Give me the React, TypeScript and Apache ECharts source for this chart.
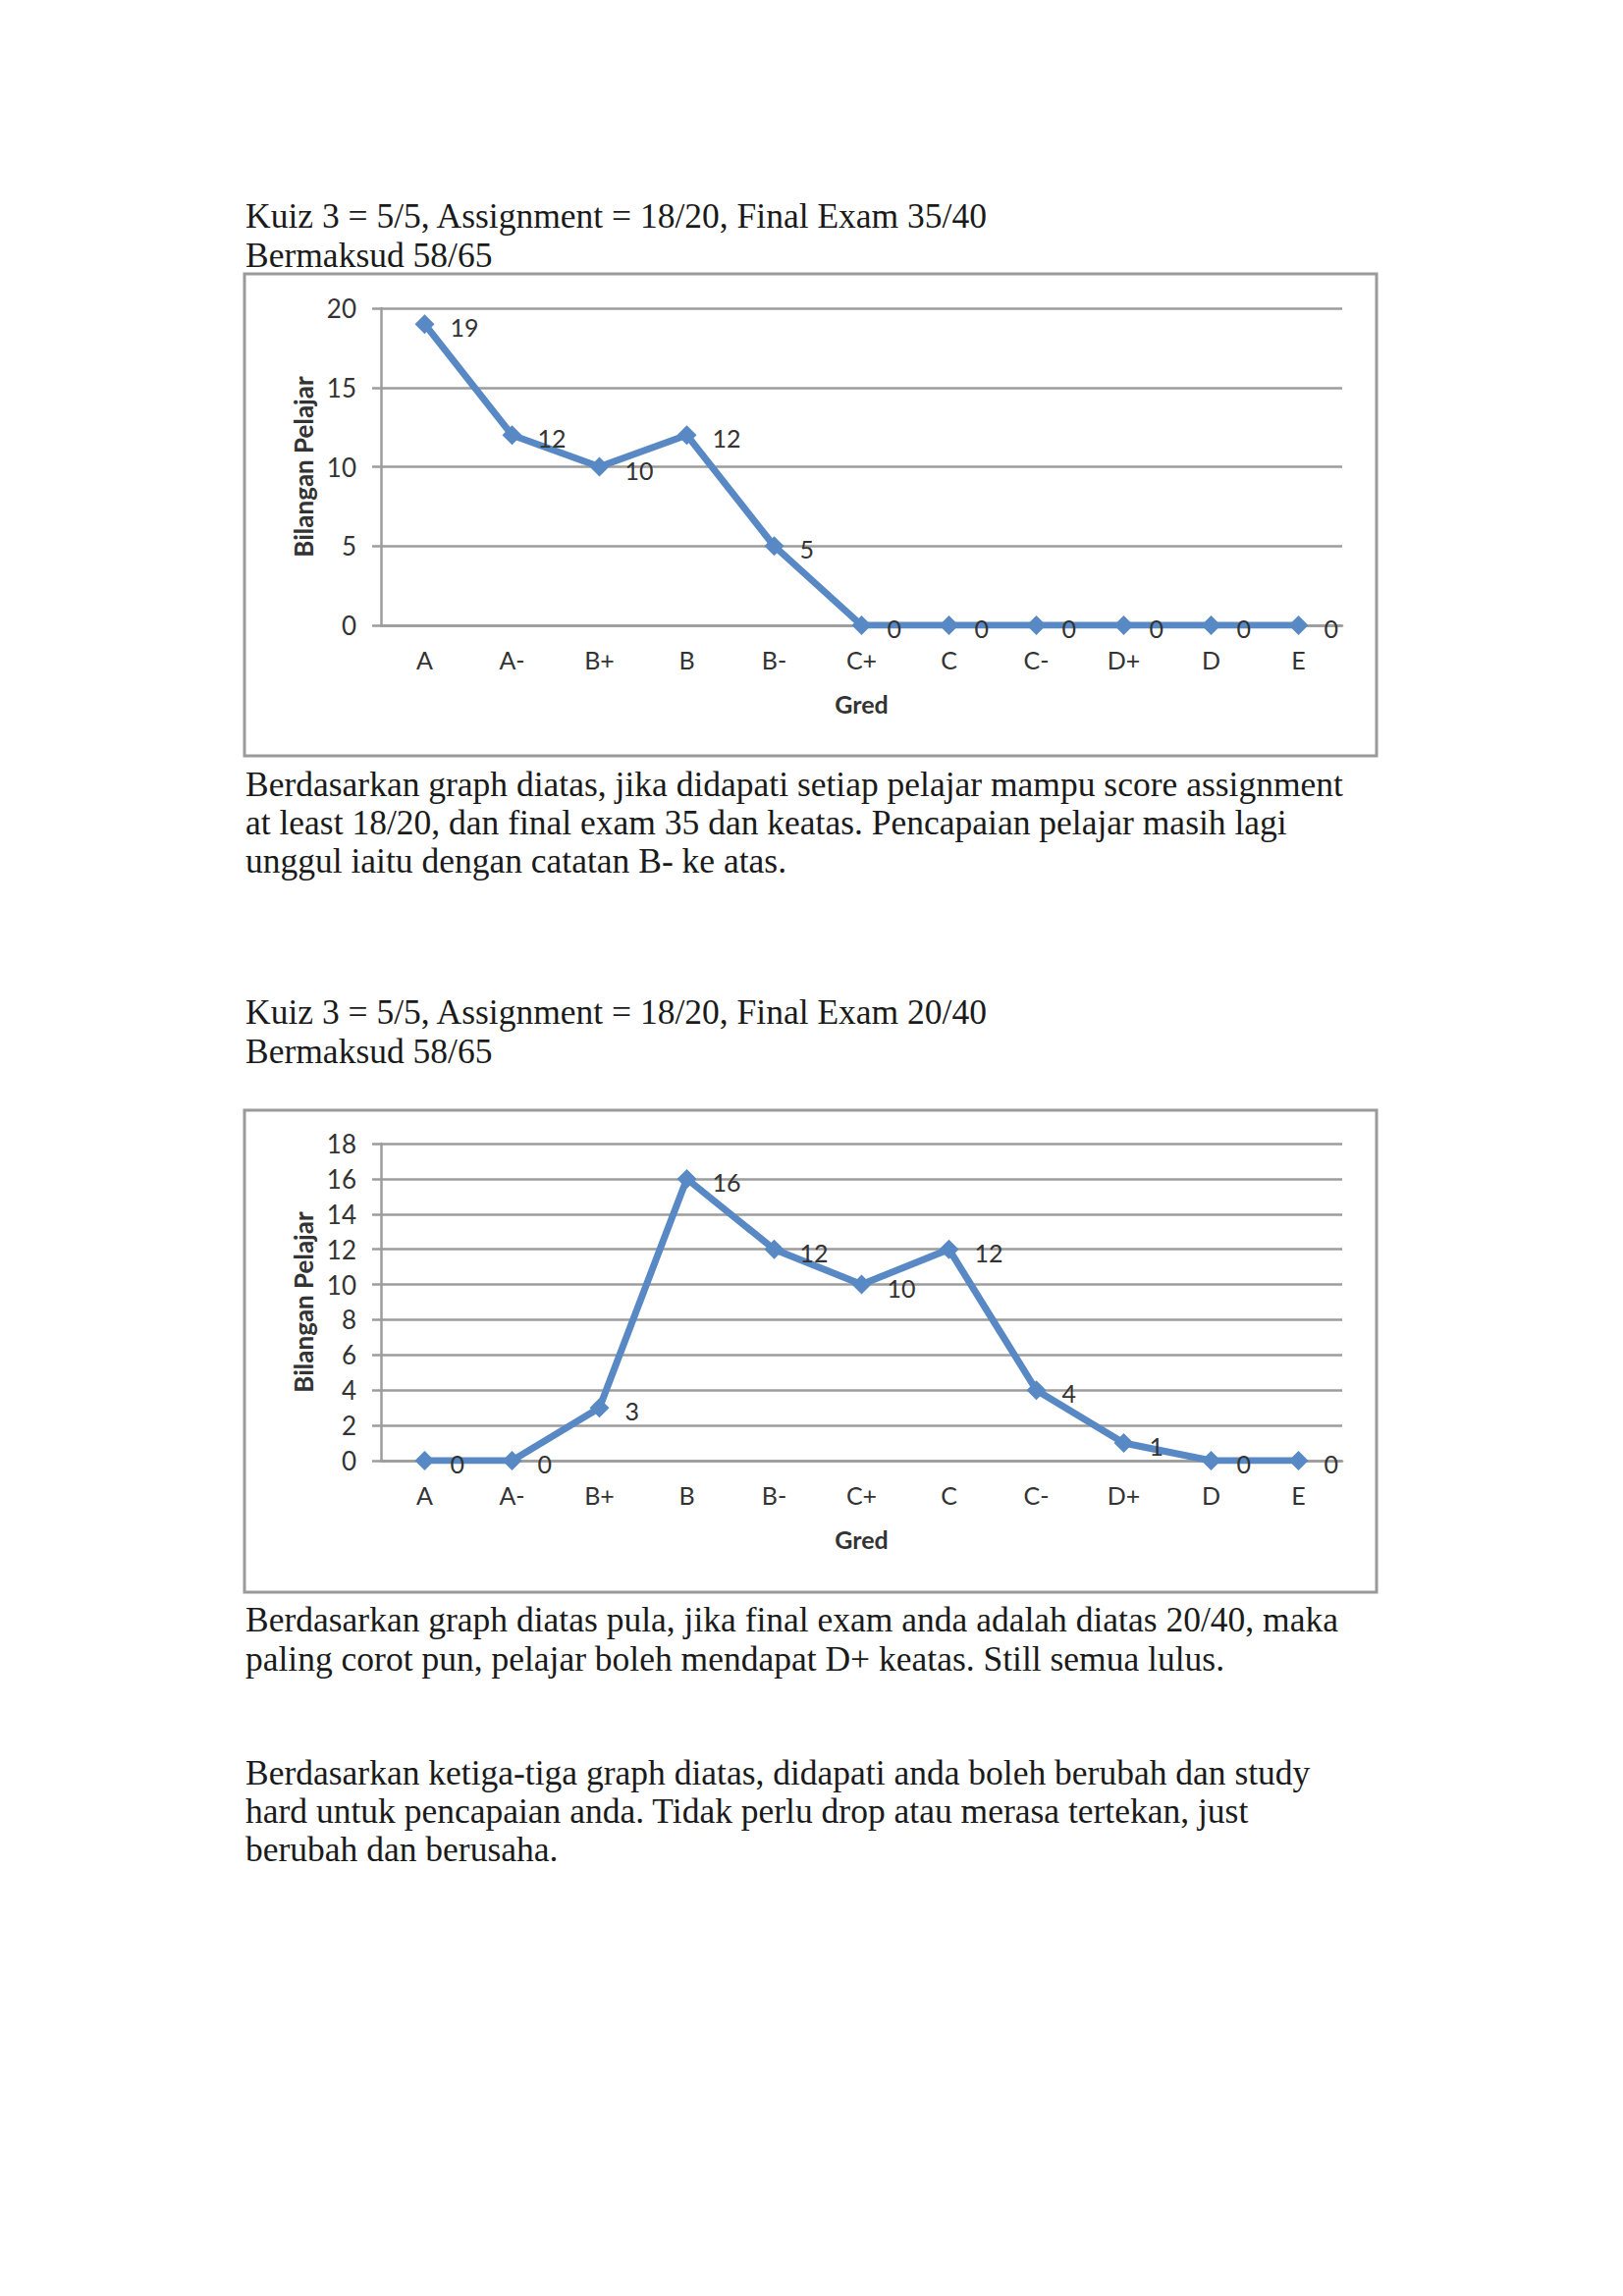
import React, { useEffect, useRef } from "react";
import * as echarts from "echarts";

const grades = ["A", "A-", "B+", "B", "B-", "C+", "C", "C-", "D+", "D", "E"];
const counts1 = [19, 12, 10, 12, 5, 0, 0, 0, 0, 0, 0];
const counts2 = [0, 0, 3, 16, 12, 10, 12, 4, 1, 0, 0];
const yMax1 = 20;
const yStep1 = 5;
const yMax2 = 18;
const yStep2 = 2;
const xTitle = "Gred";
const yTitle = "Bilangan Pelajar";

const heading1 = ["Kuiz 3 = 5/5, Assignment = 18/20, Final Exam 35/40", "Bermaksud 58/65"];
const para1 = [
  "Berdasarkan graph diatas, jika didapati setiap pelajar mampu score assignment",
  "at least 18/20, dan final exam 35 dan keatas. Pencapaian pelajar masih lagi",
  "unggul iaitu dengan catatan B- ke atas.",
];
const heading2 = ["Kuiz 3 = 5/5, Assignment = 18/20, Final Exam 20/40", "Bermaksud 58/65"];
const para2 = [
  "Berdasarkan graph diatas pula, jika final exam anda adalah diatas 20/40, maka",
  "paling corot pun, pelajar boleh mendapat D+ keatas. Still semua lulus.",
];
const para3 = [
  "Berdasarkan ketiga-tiga graph diatas, didapati anda boleh berubah dan study",
  "hard untuk pencapaian anda. Tidak perlu drop atau merasa tertekan, just",
  "berubah dan berusaha.",
];

const SERIF = "Liberation Serif";
const SANS = "Lato";
const LINE = "#5889c4";
const GRID = "#9c9c9c";
const TXT = "#333333";

function textLines(lines: string[], x: number, y0: number, step: number) {
  return lines.map((t, i) => ({
    type: "text",
    x,
    y: y0 + i * step,
    style: {
      text: t,
      fontFamily: SERIF,
      fontSize: 35.5,
      fill: "#1a1a1a",
      verticalAlign: "middle",
      align: "left",
    },
  }));
}

export default function App() {
  const ref = useRef<HTMLDivElement>(null);
  useEffect(() => {
    if (!ref.current) return;
    const chart = echarts.init(ref.current, undefined, { renderer: "svg" });
    const mkX = (gi: number) => ({
      type: "category",
      gridIndex: gi,
      data: grades,
      boundaryGap: true,
      axisLine: { show: true, lineStyle: { color: GRID, width: 2.5 } },
      axisTick: { show: false },
      axisLabel: { margin: 22, fontFamily: SANS, fontSize: 25, color: TXT },
      name: xTitle,
      nameLocation: "middle",
      nameGap: 67,
      nameTextStyle: { fontFamily: SANS, fontSize: 25, fontWeight: "bold", color: TXT },
      splitLine: { show: false },
    });
    const mkY = (gi: number, max: number, step: number) => ({
      type: "value",
      gridIndex: gi,
      min: 0,
      max,
      interval: step,
      axisLine: { show: true, lineStyle: { color: GRID, width: 2.5 } },
      axisTick: { show: true, length: 9, lineStyle: { color: GRID, width: 2.5 } },
      axisLabel: { margin: 25, fontFamily: SANS, fontSize: 26, color: TXT },
      splitLine: { show: true, lineStyle: { color: GRID, width: 2.5 } },
      name: yTitle,
      nameLocation: "middle",
      nameRotate: 90,
      nameGap: 66,
      nameTextStyle: { fontFamily: SANS, fontSize: 26, fontWeight: "bold", color: TXT },
    });
    const mkSeries = (gi: number, data: number[]) => ({
      type: "line",
      xAxisIndex: gi,
      yAxisIndex: gi,
      data,
      symbol: "diamond",
      symbolSize: 20,
      lineStyle: { color: LINE, width: 7 },
      itemStyle: { color: LINE },
      label: {
        show: true,
        position: "right",
        distance: 16,
        offset: [0, 3],
        fontFamily: SANS,
        fontSize: 25,
        color: TXT,
      },
    });
    chart.setOption({
      animation: false,
      backgroundColor: "#ffffff",
      grid: [
        { left: 388, top: 314, width: 979, height: 323 },
        { left: 388, top: 1165, width: 979, height: 323 },
      ],
      xAxis: [mkX(0), mkX(1)],
      yAxis: [mkY(0, yMax1, yStep1), mkY(1, yMax2, yStep2)],
      series: [mkSeries(0, counts1), mkSeries(1, counts2)],
      graphic: [
        {
          type: "rect",
          shape: { x: 249, y: 279, width: 1153, height: 491 },
          style: { fill: "none", stroke: "#9a9a9a", lineWidth: 3 },
          z: -1,
        },
        {
          type: "rect",
          shape: { x: 249, y: 1131, width: 1153, height: 491 },
          style: { fill: "none", stroke: "#9a9a9a", lineWidth: 3 },
          z: -1,
        },
        ...textLines(heading1, 250, 220, 40),
        ...textLines(para1, 250, 799, 39),
        ...textLines(heading2, 250, 1031, 40),
        ...textLines(para2, 250, 1650, 40),
        ...textLines(para3, 250, 1806, 39),
      ],
    });
    return () => chart.dispose();
  }, []);
  return (
    <div
      ref={ref}
      style={{ position: "absolute", left: 0, top: 0, width: 1653, height: 2339, background: "#fff" }}
    />
  );
}
